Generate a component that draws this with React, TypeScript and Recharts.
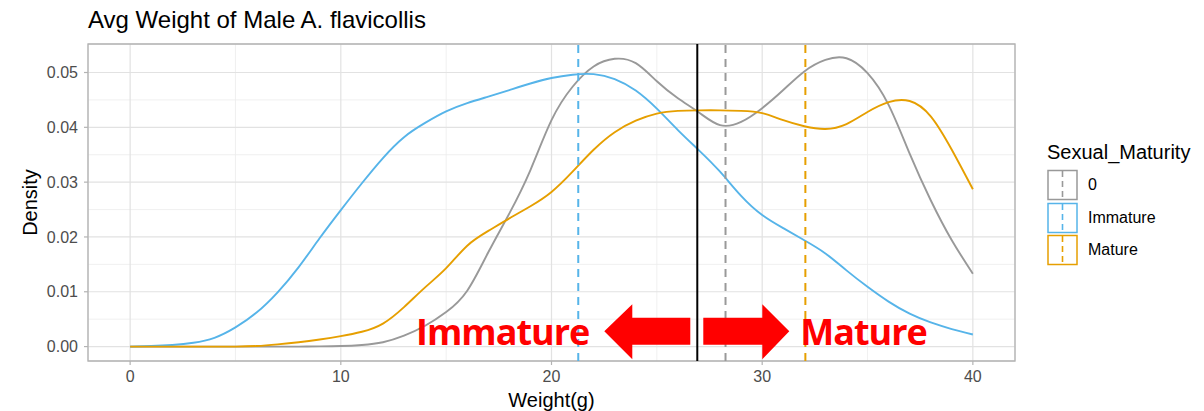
import React from 'react';
import {
  LineChart,
  Line,
  XAxis,
  YAxis,
  CartesianGrid,
  ReferenceLine,
  ReferenceArea,
  ReferenceDot,
} from 'recharts';

// Density estimates of body weight, one series per maturity group
const weights = [
  0, 1, 2, 3, 4, 5, 6, 7, 8, 9, 10, 11, 12, 13, 14, 15, 16, 17, 18, 19, 20,
  21, 22, 23, 24, 25, 26, 27, 28, 29, 30, 31, 32, 33, 34, 35, 36, 37, 38, 39, 40,
];
const densityUnknown = [
  0, 0, 0, 0, 0, 0, 0, 0, 0, 0.00003, 0.0001, 0.0003, 0.0008, 0.002, 0.0038,
  0.0063, 0.0102, 0.0172, 0.0243, 0.0322, 0.0413, 0.0474, 0.0511, 0.0525,
  0.0517, 0.0484, 0.0453, 0.0427, 0.0404, 0.041, 0.0435, 0.0468, 0.0502,
  0.0523, 0.0526, 0.0499, 0.0441, 0.0352, 0.0267, 0.0194, 0.0133,
];
const densityImmature = [
  0, 0.0001, 0.0003, 0.0007, 0.0016, 0.0035, 0.0062, 0.0099, 0.0145, 0.0198,
  0.0249, 0.0298, 0.0344, 0.0382, 0.0408, 0.0429, 0.0444, 0.0456, 0.0468,
  0.048, 0.049, 0.0496, 0.0497, 0.0488, 0.0467, 0.0434, 0.0395, 0.0358,
  0.0319, 0.0275, 0.024, 0.0216, 0.0194, 0.017, 0.0139, 0.0109, 0.0082,
  0.006, 0.0044, 0.0032, 0.0022,
];
const densityMature = [
  0, 0, 0, 0, 0, 0, 0.0001, 0.0004, 0.0008, 0.0013, 0.0019, 0.0027, 0.0042,
  0.0072, 0.0108, 0.0143, 0.0184, 0.0211, 0.0234, 0.0256, 0.0282, 0.0319,
  0.0359, 0.0391, 0.0412, 0.0425, 0.043, 0.0431, 0.0431, 0.043, 0.0426,
  0.0413, 0.0402, 0.0397, 0.0406, 0.0428, 0.0446, 0.0448, 0.042, 0.0359,
  0.0287,
];

const groups = ['0', 'Immature', 'Mature'];
const groupColors = ['#999999', '#56B4E9', '#E69F00'];
const groupMeans = [28.26, 21.27, 32.05];
const cutoffWeight = 26.92;

const xTicks = [0, 10, 20, 30, 40];
const xMinor = [5, 15, 25, 35];
const yTicks = [0, 0.01, 0.02, 0.03, 0.04, 0.05];
const yMinor = [0.005, 0.015, 0.025, 0.035, 0.045];

const X_DOMAIN: [number, number] = [-2, 42];
const Y_DOMAIN: [number, number] = [-0.00263, 0.0552];

const data = weights.map((w, i) => ({
  weight: w,
  g0: densityUnknown[i],
  immature: densityImmature[i],
  mature: densityMature[i],
}));
const seriesKeys = ['g0', 'immature', 'mature'];

const font = '"Liberation Sans", Arial, sans-serif';
const annoFont = '"Open Sans", "Noto Sans", sans-serif';

// minor grid positions from the plot offset and the axis domains
const minorX = ({ offset }: any) =>
  xMinor.map(
    (v) => offset.left + ((v - X_DOMAIN[0]) / (X_DOMAIN[1] - X_DOMAIN[0])) * offset.width
  );
const minorY = ({ offset }: any) =>
  yMinor.map(
    (v) =>
      offset.top + ((Y_DOMAIN[1] - v) / (Y_DOMAIN[1] - Y_DOMAIN[0])) * offset.height
  );

// red arrows and labels around the cutoff line
const CutoffArrows = ({ cx, cy }: { cx: number; cy: number }) => {
  const left = `M ${cx - 7} ${cy - 13.5} L ${cx - 65} ${cy - 13.5} L ${cx - 65} ${cy - 27}
    L ${cx - 93} ${cy} L ${cx - 65} ${cy + 28} L ${cx - 65} ${cy + 13.5} L ${cx - 7} ${cy + 13.5} Z`;
  const right = `M ${cx + 6} ${cy - 13.5} L ${cx + 65} ${cy - 13.5} L ${cx + 65} ${cy - 27}
    L ${cx + 92} ${cy} L ${cx + 65} ${cy + 28} L ${cx + 65} ${cy + 13.5} L ${cx + 6} ${cy + 13.5} Z`;
  return (
    <g>
      <path d={left} fill="#FF0000" />
      <path d={right} fill="#FF0000" />
      <text
        x={cx - 108}
        y={cy + 13.5}
        textAnchor="end"
        fill="#FF0000"
        fontFamily={annoFont}
        fontWeight={700}
        fontSize={36}
        letterSpacing={-1}
      >
        Immature
      </text>
      <text
        x={cx + 103}
        y={cy + 13.5}
        textAnchor="start"
        fill="#FF0000"
        fontFamily={annoFont}
        fontWeight={700}
        fontSize={36}
        letterSpacing={-1}
      >
        Mature
      </text>
    </g>
  );
};

const LegendKey = ({ color }: { color: string }) => (
  <svg width={31} height={32} style={{ display: 'block' }}>
    <rect x={1} y={1.5} width={29} height={29} fill="#fff" stroke={color} strokeWidth={1.5} />
    <line x1={15.5} y1={2} x2={15.5} y2={30} stroke={color} strokeWidth={1.6} strokeDasharray="6 4" />
  </svg>
);

export default function App() {
  return (
    <div
      style={{
        position: 'absolute',
        left: 0,
        top: 0,
        width: 1204,
        height: 411,
        background: '#fff',
        fontFamily: font,
      }}
    >
      <div
        style={{
          position: 'absolute',
          left: 88,
          top: 8,
          fontSize: 24,
          lineHeight: 1,
          color: '#000',
          whiteSpace: 'nowrap',
        }}
      >
        Avg Weight of Male A. flavicollis
      </div>

      <LineChart
        width={1204}
        height={411}
        data={data}
        margin={{ top: 44, right: 189, bottom: 0, left: 28 }}
      >
        <CartesianGrid
          stroke="#ececec"
          strokeWidth={0.8}
          verticalCoordinatesGenerator={minorX}
          horizontalCoordinatesGenerator={minorY}
        />
        <CartesianGrid stroke="#e2e2e2" strokeWidth={1.2} />
        <XAxis
          dataKey="weight"
          type="number"
          domain={X_DOMAIN}
          ticks={xTicks}
          allowDataOverflow
          height={50}
          axisLine={false}
          tickLine={{ stroke: '#b3b3b3', strokeWidth: 1.2 }}
          tickSize={4}
          tickMargin={6}
          tick={{ fill: '#4d4d4d', fontSize: 16, fontFamily: font }}
          label={{
            value: 'Weight(g)',
            position: 'insideBottom',
            offset: 4,
            style: { fill: '#000', fontSize: 20, fontFamily: font },
          }}
        />
        <YAxis
          type="number"
          domain={Y_DOMAIN}
          ticks={yTicks}
          allowDataOverflow
          width={60}
          axisLine={false}
          tickLine={{ stroke: '#b3b3b3', strokeWidth: 1.2 }}
          tickSize={4}
          tickMargin={6}
          tickFormatter={(v: number) => v.toFixed(2)}
          tick={{ fill: '#4d4d4d', fontSize: 16, fontFamily: font }}
          label={{
            value: 'Density',
            angle: -90,
            position: 'insideLeft',
            offset: 2,
            style: { fill: '#000', fontSize: 20, fontFamily: font, textAnchor: 'middle' },
          }}
        />
        <ReferenceArea
          x1={X_DOMAIN[0]}
          x2={X_DOMAIN[1]}
          y1={Y_DOMAIN[0]}
          y2={Y_DOMAIN[1]}
          fill="none"
          stroke="#b3b3b3"
          strokeWidth={1.3}
        />
        {seriesKeys.map((k, i) => (
          <Line
            key={k}
            dataKey={k}
            type="natural"
            stroke={groupColors[i]}
            strokeWidth={1.9}
            dot={false}
            activeDot={false}
            isAnimationActive={false}
          />
        ))}
        {groupMeans.map((m, i) => (
          <ReferenceLine
            key={groups[i]}
            x={m}
            stroke={groupColors[i]}
            strokeWidth={2}
            strokeDasharray="8 6"
          />
        ))}
        <ReferenceLine x={cutoffWeight} stroke="#000" strokeWidth={2} />
        <ReferenceDot
          x={cutoffWeight}
          y={0.0028}
          r={0}
          ifOverflow="visible"
          shape={(p: any) => <CutoffArrows cx={p.cx} cy={p.cy} />}
        />
      </LineChart>

      <div style={{ position: 'absolute', left: 1047, top: 142 }}>
        <div style={{ fontSize: 20, lineHeight: 1, color: '#000', marginBottom: 7 }}>
          Sexual_Maturity
        </div>
        {groups.map((g, i) => (
          <div key={g} style={{ display: 'flex', alignItems: 'center', height: 32.5 }}>
            <LegendKey color={groupColors[i]} />
            <span style={{ marginLeft: 10, fontSize: 16, lineHeight: 1, color: '#000' }}>{g}</span>
          </div>
        ))}
      </div>
    </div>
  );
}
